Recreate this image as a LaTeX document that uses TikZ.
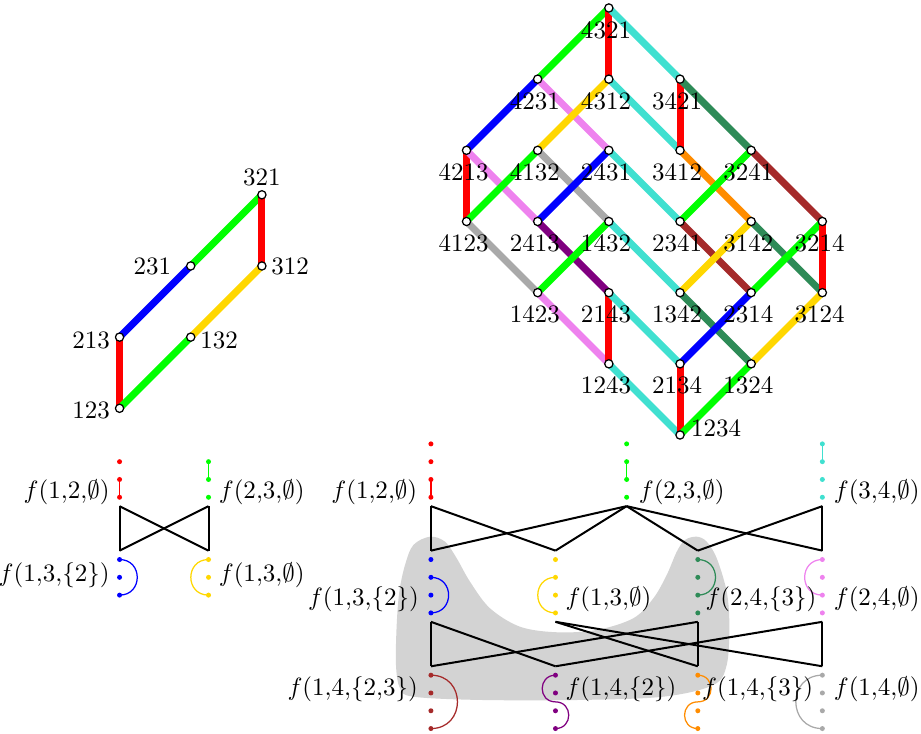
\documentclass[tikz,border=0pt]{standalone}
\usetikzlibrary{calc}
\definecolor{cRed}{RGB}{255,0,0}
\definecolor{cGreen}{RGB}{0,255,0}
\definecolor{cBlue}{RGB}{0,0,255}
\definecolor{cGold}{RGB}{255,215,0}
\definecolor{cTurq}{RGB}{64,224,208}
\definecolor{cSea}{RGB}{46,139,87}
\definecolor{cViolet}{RGB}{238,130,238}
\definecolor{cBrown}{RGB}{165,42,42}
\definecolor{cPurple}{RGB}{128,0,128}
\definecolor{cOrange}{RGB}{255,140,0}
\definecolor{cGray}{RGB}{169,169,169}
\definecolor{cBlob}{RGB}{211,211,211}
\pgfdeclarelayer{background}
\pgfsetlayers{background,main}
\begin{document}
\begin{tikzpicture}[
  vert/.style={circle,draw=black,fill=white,inner sep=0pt,minimum size=3.3pt,line width=0.5pt},
  edge/.style={line width=2.8pt},
  lbl/.style={inner sep=0pt},
  dot/.style={circle,inner sep=0pt,minimum size=2pt},
  link/.style={line width=0.5pt},
  half/.style={line width=0.5pt,looseness=1.7},
  bow/.style={line width=0.8pt,black},
]
\useasboundingbox (-9.555,-4.2) rectangle (3.386,6.112);

% ---------- S4 lattice ----------
\foreach \n/\x/\y in {4321/-1/6,4231/-2/5,4312/-1/5,3421/0/5,4213/-3/4,4132/-2/4,2431/-1/4,3412/0/4,3241/1/4,
  4123/-3/3,2413/-2/3,1432/-1/3,2341/0/3,3142/1/3,3214/2/3,1423/-2/2,2143/-1/2,1342/0/2,2314/1/2,3124/2/2,
  1243/-1/1,2134/0/1,1324/1/1,1234/0/0}
  \node[vert] (v\n) at (\x,\y) {};
\foreach \n/\x/\y in {4321/-1/6,4231/-2/5,4312/-1/5,3421/0/5,4213/-3/4,4132/-2/4,2431/-1/4,3412/0/4,3241/1/4,
  4123/-3/3,2413/-2/3,1432/-1/3,2341/0/3,3142/1/3,3214/2/3,1423/-2/2,2143/-1/2,1342/0/2,2314/1/2,3124/2/2,
  1243/-1/1,2134/0/1,1324/1/1}
  \node[lbl,anchor=north] (l\n) at (\x-0.04,\y-0.178) {\n};
\node[lbl,anchor=west] (l1234) at ($(v1234)+(0.15,0.1)$) {1234};

\begin{pgfonlayer}{background}
\foreach \a/\b/\c in {4321/4231/cGreen,4321/4312/cRed,4321/3421/cTurq,
  4231/4213/cBlue,4231/2431/cViolet,4312/4132/cGold,4312/3412/cTurq,
  3421/3412/cRed,3421/3241/cSea,4213/4123/cRed,4213/2413/cViolet,
  4132/4123/cGreen,4132/1432/cGray,2431/2413/cBlue,2431/2341/cTurq,
  3412/3142/cOrange,3241/2341/cGreen,3241/3214/cBrown,4123/1423/cGray,
  2413/2143/cPurple,1432/1423/cGreen,1432/1342/cTurq,2341/2314/cBrown,
  3142/1342/cGold,3142/3124/cSea,3214/2314/cGreen,3214/3124/cRed,
  1423/1243/cViolet,2143/1243/cRed,2143/2134/cTurq,1342/1324/cSea,
  2314/2134/cBlue,3124/1324/cGold,1243/1234/cTurq,2134/1234/cRed,1324/1234/cGreen}
  \draw[edge,\c] (v\a.center) -- (v\b.center);
\end{pgfonlayer}

% ---------- S3 lattice ----------
\foreach \n/\x/\y in {123/-7.875/0.375,213/-7.875/1.375,132/-6.875/1.375,231/-6.875/2.375,312/-5.875/2.375,321/-5.875/3.375}
  \node[vert] (w\n) at (\x,\y) {};
\begin{pgfonlayer}{background}
\foreach \a/\b/\c in {321/231/cGreen,321/312/cRed,231/213/cBlue,312/132/cGold,213/123/cRed,132/123/cGreen}
  \draw[edge,\c] (w\a.center) -- (w\b.center);
\end{pgfonlayer}
\node[lbl,anchor=south] (m321) at ($(w321)+(0,0.117)$) {321};
\node[lbl,anchor=east] (m231) at ($(w231)+(-0.267,-0.011)$) {231};
\node[lbl,anchor=west] (m312) at ($(w312)+(0.127,-0.011)$) {312};
\node[lbl,anchor=east] (m213) at ($(w213)+(-0.13,-0.05)$) {213};
\node[lbl,anchor=west] (m132) at ($(w132)+(0.13,-0.05)$) {132};
\node[lbl,anchor=east] (m123) at ($(w123)+(-0.13,-0.03)$) {123};

% ---------- blob ----------
\begin{pgfonlayer}{background}
\fill[cBlob] plot[smooth cycle,tension=0.55] coordinates {
  (-3.513,-1.429) (-3.747,-1.546) (-3.864,-1.827) (-3.944,-2.202) (-3.981,-2.670)
  (-3.991,-3.232) (-3.934,-3.559) (-3.747,-3.677) (-2.810,-3.723) (-1.405,-3.723)
  (-0.235,-3.677) (0.468,-3.513) (0.656,-3.232) (0.693,-2.670) (0.656,-2.202)
  (0.516,-1.732) (0.375,-1.499) (0.235,-1.429) (0.070,-1.475) (-0.046,-1.640)
  (-0.187,-1.967) (-0.375,-2.295) (-0.656,-2.575) (-1.170,-2.740) (-1.732,-2.772)
  (-2.248,-2.694) (-2.670,-2.435) (-2.951,-2.061) (-3.138,-1.732) (-3.302,-1.499)};
\end{pgfonlayer}

% ---------- S3 cycles ----------
\foreach \c/\x/\col in {SR/-7.875/cRed,SG/-6.625/cGreen}
  \foreach \i/\y in {1/-0.375,2/-0.625,3/-0.875}
    \node[dot,fill=\col] (\c\i) at (\x,\y) {};
\foreach \c/\x/\col in {SB/-7.875/cBlue,SY/-6.625/cGold}
  \foreach \i/\y in {1/-1.75,2/-2.0,3/-2.25}
    \node[dot,fill=\col] (\c\i) at (\x,\y) {};
\draw[link,cRed] (SR2.center) -- (SR3.center);
\draw[link,cGreen] (SG1.center) -- (SG2.center);
\draw[half,cBlue] (SB1.center) to[out=0,in=0] (SB3.center);
\draw[half,cGold] (SY1.center) to[out=180,in=180] (SY3.center);
\coordinate (sRt) at (-7.875,-1);
\coordinate (sGt) at (-6.625,-1);
\coordinate (sBb) at (-7.875,-1.625);
\coordinate (sYb) at (-6.625,-1.625);
\draw[bow] (sRt) -- (sBb);
\draw[bow] (sRt) -- (sYb);
\draw[bow] (sGt) -- (sBb);
\draw[bow] (sGt) -- (sYb);
\node[lbl,anchor=east] (fa) at (-8.009,-0.805) {$f(1{,}2{,}\emptyset)$};
\node[lbl,anchor=west] (fb) at (-6.487,-0.805) {$f(2{,}3{,}\emptyset)$};
\node[lbl,anchor=east] (fc) at (-8.009,-1.967) {$f(1{,}3{,}\{2\})$};
\node[lbl,anchor=west] (fd) at (-6.487,-1.967) {$f(1{,}3{,}\emptyset)$};

% ---------- S4 cycles ----------
\foreach \c/\x/\col in {R/-3.5/cRed,G/-0.75/cGreen,T/2/cTurq}
  \foreach \i/\y in {1/-0.125,2/-0.375,3/-0.625,4/-0.875}
    \node[dot,fill=\col] (\c\i) at (\x,\y) {};
\foreach \c/\x/\col in {B/-3.5/cBlue,Y/-1.75/cGold,D/0.25/cSea,V/2/cViolet}
  \foreach \i/\y in {1/-1.75,2/-2.0,3/-2.25,4/-2.5}
    \node[dot,fill=\col] (\c\i) at (\x,\y) {};
\foreach \c/\x/\col in {N/-3.5/cBrown,P/-1.75/cPurple,O/0.25/cOrange,A/2/cGray}
  \foreach \i/\y in {1/-3.375,2/-3.625,3/-3.875,4/-4.125}
    \node[dot,fill=\col] (\c\i) at (\x,\y) {};
\draw[link,cRed] (R3.center) -- (R4.center);
\draw[link,cGreen] (G2.center) -- (G3.center);
\draw[link,cTurq] (T1.center) -- (T2.center);
\draw[half,cBlue] (B2.center) to[out=0,in=0] (B4.center);
\draw[half,cGold] (Y2.center) to[out=180,in=180] (Y4.center);
\draw[half,cSea] (D1.center) to[out=0,in=0] (D3.center);
\draw[half,cViolet] (V1.center) to[out=180,in=180] (V3.center);
\draw[half,cBrown] (N1.center) to[out=0,in=0] (N4.center);
\coordinate (Pm) at ($(P2)!0.5!(P3)$);
\coordinate (Om) at ($(O2)!0.5!(O3)$);
\draw[half,cPurple] (P1.center) to[out=180,in=180] (Pm) to[out=0,in=0] (P4.center);
\draw[half,cOrange] (O1.center) to[out=0,in=0] (Om) to[out=180,in=180] (O4.center);
\draw[half,cGray] (A1.center) to[out=180,in=180] (A4.center);

\coordinate (uR) at (-3.5,-1);
\coordinate (uG) at (-0.75,-1);
\coordinate (uT) at (2,-1);
\coordinate (mB) at (-3.5,-1.625);
\coordinate (mY) at (-1.75,-1.625);
\coordinate (mD) at (0.25,-1.625);
\coordinate (mV) at (2,-1.625);
\foreach \a/\b in {uR/mB,uR/mY,uG/mB,uG/mY,uG/mD,uG/mV,uT/mD,uT/mV}
  \draw[bow] (\a) -- (\b);
\coordinate (kB) at (-3.5,-2.625);
\coordinate (kY) at (-1.75,-2.625);
\coordinate (kD) at (0.25,-2.625);
\coordinate (kV) at (2,-2.625);
\coordinate (bN) at (-3.5,-3.25);
\coordinate (bP) at (-1.75,-3.25);
\coordinate (bO) at (0.25,-3.25);
\coordinate (bA) at (2,-3.25);
\foreach \a/\b in {kB/bN,kB/bP,kY/bO,kY/bA,kD/bN,kD/bO,kV/bP,kV/bA}
  \draw[bow] (\a) -- (\b);

\node[lbl,anchor=east] (g1) at (-3.686,-0.805) {$f(1{,}2{,}\emptyset)$};
\node[lbl,anchor=west] (g2) at (-0.586,-0.805) {$f(2{,}3{,}\emptyset)$};
\node[lbl,anchor=west] (g3) at (2.154,-0.805) {$f(3{,}4{,}\emptyset)$};
\node[lbl,anchor=east] (g4) at (-3.663,-2.304) {$f(1{,}3{,}\{2\})$};
\node[lbl,anchor=west] (g5) at (-1.616,-2.304) {$f(1{,}3{,}\emptyset)$};
\node[lbl,anchor=west] (g6) at (0.351,-2.304) {$f(2{,}4{,}\{3\})$};
\node[lbl,anchor=west] (g7) at (2.154,-2.304) {$f(2{,}4{,}\emptyset)$};
\node[lbl,anchor=east] (g8) at (-3.677,-3.569) {$f(1{,}4{,}\{2{,}3\})$};
\node[lbl,anchor=west] (g9) at (-1.616,-3.569) {$f(1{,}4{,}\{2\})$};
\node[lbl,anchor=west] (g10) at (0.305,-3.569) {$f(1{,}4{,}\{3\})$};
\node[lbl,anchor=west] (g11) at (2.154,-3.569) {$f(1{,}4{,}\emptyset)$};
\end{tikzpicture}
\end{document}
